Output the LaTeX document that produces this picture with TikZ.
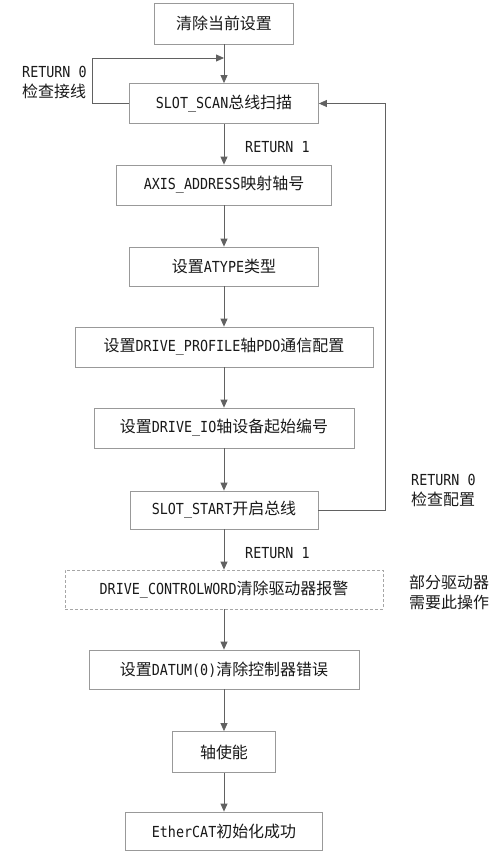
\documentclass[tikz,border=0pt]{standalone}
\usepackage{fontspec}
\setmainfont{DejaVu Sans Mono}[FakeStretch=0.88]
\newfontfamily\cjk{Noto Sans CJK SC}[Scale=1.05]
\usetikzlibrary{arrows.meta}
\begin{document}
\begin{tikzpicture}[x=1pt,y=-1pt,
  font=\fontsize{15.2pt}{20pt}\selectfont,
  box/.style={draw=black!40, line width=0.8pt, inner sep=0pt, minimum height=40pt, text=black!90, fill=white},
  dbox/.style={box, draw=black!35, dashed, dash pattern=on 3pt off 2pt},
  conn/.style={draw=black!62, line width=0.8pt, -{Triangle[length=8pt,width=7pt]}},
  lbl/.style={anchor=west, align=left, inner sep=0pt, text=black!90}]
\useasboundingbox (0,0) rectangle (503,864);
\node[box, minimum width=139pt, minimum height=41pt] (n1) at (224,23.5) {{\cjk 清除当前设置}};
\node[box, minimum width=189pt] (n2) at (224,103.5) {SLOT\_SCAN{\cjk 总线扫描}};
\node[box, minimum width=215pt] (n3) at (224,185) {AXIS\_ADDRESS{\cjk 映射轴号}};
\node[box, minimum width=189pt, minimum height=39pt] (n4) at (224,266.5) {{\cjk 设置}ATYPE{\cjk 类型}};
\node[box, minimum width=298pt] (n5) at (224,347) {{\cjk 设置}DRIVE\_PROFILE{\cjk 轴}PDO{\cjk 通信配置}};
\node[box, minimum width=260pt] (n6) at (224,428) {{\cjk 设置}DRIVE\_IO{\cjk 轴设备起始编号}};
\node[box, minimum width=188pt, minimum height=38pt] (n7) at (224,510) {SLOT\_START{\cjk 开启总线}};
\node[dbox, minimum width=318pt, minimum height=39pt] (n8) at (224,589.5) {DRIVE\_CONTROLWORD{\cjk 清除驱动器报警}};
\node[box, minimum width=270pt, minimum height=39pt] (n9) at (224,669.5) {{\cjk 设置}DATUM(0){\cjk 清除控制器错误}};
\node[box, minimum width=103pt, minimum height=41pt] (n10) at (224,752) {{\cjk 轴使能}};
\node[box, minimum width=197pt, minimum height=38pt] (n11) at (224,831) {EtherCAT{\cjk 初始化成功}};
\coordinate (j1) at (224,58);
\coordinate (rx) at (385,0);
\draw[conn] (n1) -- (n2);
\draw[conn] (n2.west) -- ++(-37,0) |- (j1);
\draw[conn] (n2) -- (n3);
\draw[conn] (n3) -- (n4);
\draw[conn] (n4) -- (n5);
\draw[conn] (n5) -- (n6);
\draw[conn] (n6) -- (n7);
\draw[conn] (n7.east) -- (n7.east -| rx) |- (n2.east);
\draw[conn] (n7) -- (n8);
\draw[conn] (n8) -- (n9);
\draw[conn] (n9) -- (n10);
\draw[conn] (n10) -- (n11);
\node[lbl] (t1) at (22,83) {RETURN 0\\{\cjk 检查接线}};
\node[lbl] (t2) at (245,147) {RETURN 1};
\node[lbl] (t3) at (411,490) {RETURN 0\\{\cjk 检查配置}};
\node[lbl] (t4) at (245,553) {RETURN 1};
\node[lbl] (t5) at (409,592) {{\cjk 部分驱动器}\\{\cjk 需要此操作}};
\end{tikzpicture}
\end{document}
